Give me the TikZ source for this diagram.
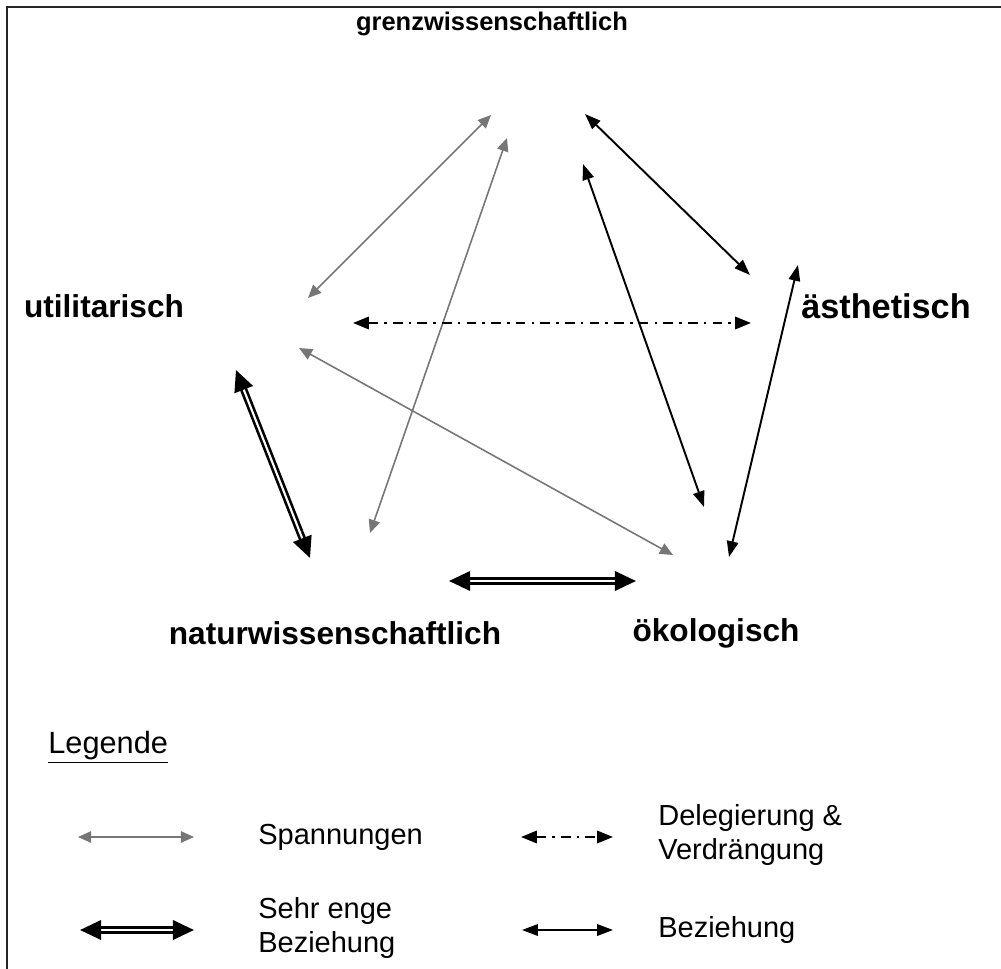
\documentclass[tikz,border=0pt]{standalone}
\usepackage{fontspec}
\setmainfont{Liberation Sans}
\usetikzlibrary{arrows.meta}
\definecolor{tgray}{RGB}{118,118,118}
\begin{document}
\begin{tikzpicture}[x=0.02cm,y=-0.02cm,
 lbl/.style={font=\fontsize{18}{20}\selectfont\bfseries, inner sep=0pt},
 leg/.style={font=\fontsize{16.5}{19.5}\selectfont, inner sep=0pt, anchor=west, align=left},
 span/.style={draw=tgray, line width=0.9pt, {Triangle[length=7.5pt,width=6.5pt]}-{Triangle[length=7.5pt,width=6.5pt]}},
 rel/.style={draw=black, line width=1.1pt, {Triangle[length=9pt,width=6.5pt]}-{Triangle[length=9pt,width=6.5pt]}},
 deleg/.style={draw=black, line width=1.3pt, dash pattern=on 5.5pt off 3.5pt on 1.5pt off 3.5pt, {Triangle[length=9pt,width=7pt]}-{Triangle[length=9pt,width=7pt]}},
 close/.style={draw=black, line width=1.5pt, double distance=1.2pt, {Triangle[length=12pt,width=11pt]}-{Triangle[length=12pt,width=11pt]}},
 frame/.style={draw=black!85, line width=1.2pt}]
\useasboundingbox (0,0) rectangle (1001,969);
% open frame (left and top edges)
\coordinate (fa) at (7,969);
\coordinate (fb) at (7,7);
\coordinate (fc) at (1001,7);
\draw[frame] (fa) -- (fb) -- (fc);

% labels
\node[lbl, font=\fontsize{14.5}{17}\selectfont\bfseries] (grenz) at (492,24) {grenzwissenschaftlich};
\node[lbl] (util) at (104,306) {utilitarisch};
\node[lbl, font=\fontsize{19.5}{22}\selectfont\bfseries] (aesth) at (886,306) {ästhetisch};
\node[lbl] (natur) at (335,633) {naturwissenschaftlich};
\node[lbl] (oeko) at (716,633) {ökologisch};

% arrow end points
\coordinate (gu1) at (491,115); \coordinate (gu2) at (308,298);
\coordinate (gn1) at (507,138); \coordinate (gn2) at (370,533);
\coordinate (uo1) at (299,348); \coordinate (uo2) at (673,555);
\coordinate (ga1) at (585,114); \coordinate (ga2) at (750,275);
\coordinate (go1) at (583,164); \coordinate (go2) at (704,507);
\coordinate (ao1) at (798,265); \coordinate (ao2) at (729,557);
\coordinate (ua1) at (353,323); \coordinate (ua2) at (751,323);
\coordinate (un1) at (236,370); \coordinate (un2) at (310,558);
\coordinate (no1) at (449,581); \coordinate (no2) at (636,581);

% connectors
\draw[span] (gu1) -- (gu2);
\draw[span] (gn1) -- (gn2);
\draw[span] (uo1) -- (uo2);
\draw[rel] (ga1) -- (ga2);
\draw[rel] (go1) -- (go2);
\draw[rel] (ao1) -- (ao2);
\draw[deleg] (ua1) -- (ua2);
\draw[close] (un1) -- (un2);
\draw[close] (no1) -- (no2);

% legend
\node[leg, font=\fontsize{17.5}{20}\selectfont] (legtitle) at (48,747) {\underline{Legende}};
\coordinate (l1a) at (78,837); \coordinate (l1b) at (194,837);
\draw[span] (l1a) -- (l1b);
\node[leg] (lspan) at (258,837) {Spannungen};
\coordinate (l2a) at (521,837); \coordinate (l2b) at (613,837);
\draw[deleg] (l2a) -- (l2b);
\node[leg] (ldeleg) at (658,835) {Delegierung \&\\Verdrängung};
\coordinate (l3a) at (80,930); \coordinate (l3b) at (194,930);
\draw[close] (l3a) -- (l3b);
\node[leg] (lclose) at (258,928) {Sehr enge\\Beziehung};
\coordinate (l4a) at (522,930); \coordinate (l4b) at (613,930);
\draw[rel] (l4a) -- (l4b);
\node[leg] (lrel) at (658,930) {Beziehung};
\end{tikzpicture}
\end{document}
